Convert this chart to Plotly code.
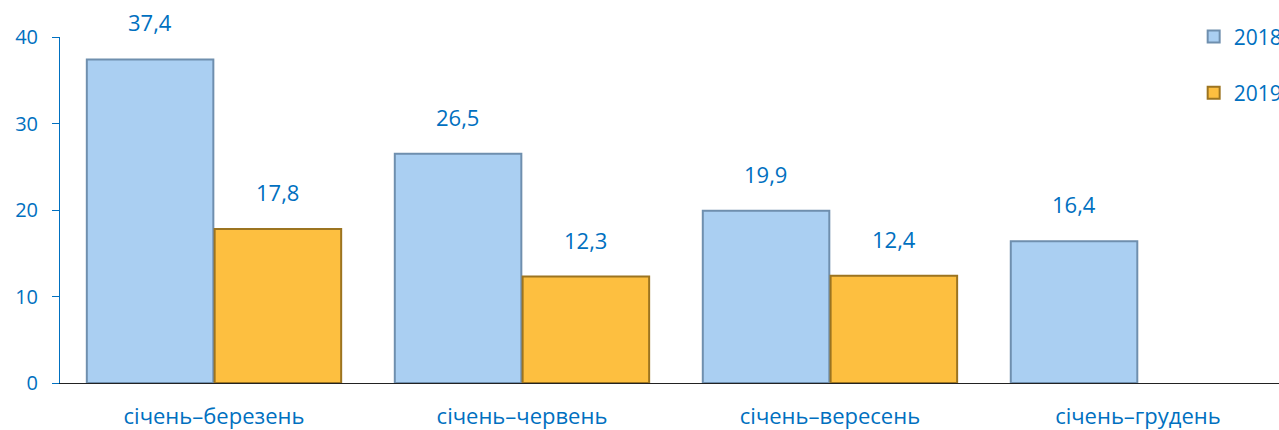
"""Bar chart: 2018 vs 2019, cumulative periods (values in %)."""

import plotly.graph_objects as go

periods = ["січень–березень", "січень–червень", "січень–вересень", "січень–грудень"]
values_2018 = [37.4, 26.5, 19.9, 16.4]
values_2019 = [17.8, 12.3, 12.4, None]
y_ticks = [0, 10, 20, 30, 40]

BLUE_TEXT = "#0070c0"
FONT = "Open Sans, Noto Sans, sans-serif"


def fmt(v):
    return f"{v:.1f}".replace(".", ",")


fig = go.Figure()
fig.add_trace(go.Bar(
    x=periods, y=values_2018, name="2018", legendgroup="a",
    marker=dict(color="#aacff2", line=dict(color="#6f8fae", width=2)),
))
fig.add_trace(go.Bar(
    x=periods, y=values_2019, name="2019", legendgroup="b",
    marker=dict(color="#fdbf40", line=dict(color="#9c7420", width=2)),
))

# value labels above bars
for shift, series in ((-64, values_2018), (64, values_2019)):
    for p, v in zip(periods, series):
        if v is None:
            continue
        fig.add_annotation(
            x=p, y=v, text=fmt(v), showarrow=False,
            xshift=shift, yshift=37, yanchor="middle",
            font=dict(size=22, color=BLUE_TEXT, family=FONT),
        )

fig.update_layout(
    width=1279, height=430,
    margin=dict(l=60, r=0, t=37, b=47, autoexpand=False),
    plot_bgcolor="white", paper_bgcolor="white",
    barmode="group", bargap=0.17, bargroupgap=0.01,
    font=dict(family=FONT, color=BLUE_TEXT),
    legend=dict(
        x=0.93, y=1.06, xanchor="left", yanchor="top",
        traceorder="grouped", tracegroupgap=26,
        font=dict(size=21, color=BLUE_TEXT), bgcolor="rgba(0,0,0,0)",
    ),
    xaxis=dict(
        range=[-0.5, 3.458], showline=True, linecolor="#222222", linewidth=1,
        ticks="", ticklabelstandoff=14, tickfont=dict(size=22, color=BLUE_TEXT),
    ),
    yaxis=dict(
        range=[0, 40], tickvals=y_ticks, showgrid=False, zeroline=False,
        showline=True, linecolor=BLUE_TEXT, linewidth=1,
        ticks="outside", ticklen=7, tickcolor=BLUE_TEXT,
        ticklabelstandoff=10, tickfont=dict(size=20, color=BLUE_TEXT),
    ),
)

fig.write_html(
    "out.html",
    config={"displayModeBar": False},
    post_script="document.body.style.margin='0';",
)
